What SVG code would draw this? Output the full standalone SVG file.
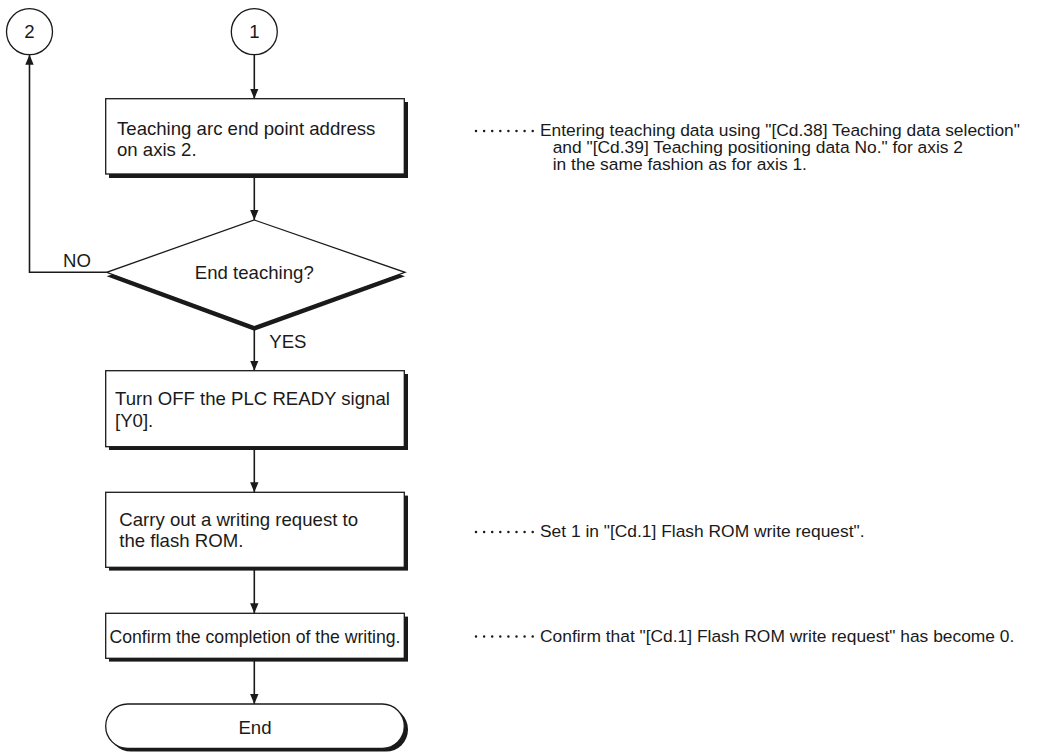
<svg xmlns="http://www.w3.org/2000/svg" width="1037" height="754" viewBox="0 0 1037 754">
<style>
.t{font-family:"Liberation Sans",Arial,sans-serif;font-size:18.6px;fill:#1a1a1a}
.a{font-family:"Liberation Sans",Arial,sans-serif;font-size:17.4px;fill:#1a1a1a}
.box{fill:#fff;stroke:#1a1a1a;stroke-width:1.3}
.sh{fill:#1a1a1a}
.ln{fill:none;stroke:#1a1a1a;stroke-width:1.6}
.dots{fill:none;stroke:#1a1a1a;stroke-width:2.5;stroke-linecap:round;stroke-dasharray:0 8.1}
</style>
<defs>
<marker id="ah" markerWidth="10" markerHeight="10" refX="10" refY="5" orient="auto" markerUnits="userSpaceOnUse">
<path d="M0,0.8 L10,5 L0,9.2 Z" fill="#1a1a1a"/>
</marker>
</defs>
<g id="c2">
<circle cx="29.5" cy="31.7" r="23" class="box"/>
<text x="29.5" y="38.3" class="t" text-anchor="middle">2</text>
</g>
<g id="c1">
<circle cx="254.3" cy="31.7" r="23" class="box"/>
<text x="254.3" y="38.3" class="t" text-anchor="middle">1</text>
</g>
<g id="b1">
<rect x="109" y="102" width="299" height="76" class="sh"/>
<rect x="105.7" y="98.7" width="298.6" height="75.3" class="box"/>
<text x="117" y="134.5" class="t">Teaching arc end point address</text>
<text x="117" y="155.5" class="t">on axis 2.</text>
</g>
<g id="d1">
<polygon points="254.3,224 405,276.3 254.3,330.7 106.7,276.3" class="sh"/>
<polygon points="254.3,220 405,272.3 254.3,326.7 106.7,272.3" class="box"/>
<text x="254.3" y="279" class="t" text-anchor="middle">End teaching?</text>
</g>
<g id="b2">
<rect x="109" y="374" width="299" height="76" class="sh"/>
<rect x="105.7" y="370.7" width="298.6" height="76" class="box"/>
<text x="115" y="405" class="t">Turn OFF the PLC READY signal</text>
<text x="115" y="426.7" class="t">[Y0].</text>
</g>
<g id="b3">
<rect x="109" y="495.6" width="299" height="75" class="sh"/>
<rect x="105.7" y="492.3" width="298.6" height="75" class="box"/>
<text x="119.3" y="526" class="t">Carry out a writing request to</text>
<text x="119.3" y="547.3" class="t">the flash ROM.</text>
</g>
<g id="b4">
<rect x="109" y="616.6" width="299" height="45" class="sh"/>
<rect x="105.7" y="613.3" width="298.6" height="45" class="box"/>
<text x="109.5" y="642.5" class="t" textLength="291" lengthAdjust="spacingAndGlyphs">Confirm the completion of the writing.</text>
</g>
<g id="end">
<rect x="109" y="707.3" width="299" height="44.3" rx="22" class="sh"/>
<rect x="105.7" y="704" width="298.6" height="44.3" rx="22" class="box"/>
<text x="255" y="733.5" class="t" text-anchor="middle">End</text>
</g>
<g id="connectors">
<line x1="254.3" y1="54.7" x2="254.3" y2="98.7" class="ln" marker-end="url(#ah)"/>
<line x1="254.3" y1="174" x2="254.3" y2="220" class="ln" marker-end="url(#ah)"/>
<polyline points="106.7,272.3 29.5,272.3 29.5,54.7" class="ln" marker-end="url(#ah)"/>
<line x1="254.3" y1="326.7" x2="254.3" y2="370.7" class="ln" marker-end="url(#ah)"/>
<line x1="254.3" y1="446.7" x2="254.3" y2="492.3" class="ln" marker-end="url(#ah)"/>
<line x1="254.3" y1="567.3" x2="254.3" y2="613.3" class="ln" marker-end="url(#ah)"/>
<line x1="254.3" y1="658.3" x2="254.3" y2="704" class="ln" marker-end="url(#ah)"/>
<text x="63" y="267" class="t">NO</text>
<text x="269.3" y="348" class="t">YES</text>
</g>
<g id="notes">
<line x1="476" y1="131" x2="533" y2="131" class="dots"/>
<text x="540" y="136" class="a">Entering teaching data using "[Cd.38] Teaching data selection"</text>
<text x="552.7" y="153" class="a">and "[Cd.39] Teaching positioning data No." for axis 2</text>
<text x="552.7" y="170" class="a">in the same fashion as for axis 1.</text>
<line x1="476" y1="532" x2="533" y2="532" class="dots"/>
<text x="540" y="537" class="a">Set 1 in "[Cd.1] Flash ROM write request".</text>
<line x1="476" y1="636.5" x2="533" y2="636.5" class="dots"/>
<text x="540" y="641.5" class="a">Confirm that "[Cd.1] Flash ROM write request" has become 0.</text>
</g>
</svg>
